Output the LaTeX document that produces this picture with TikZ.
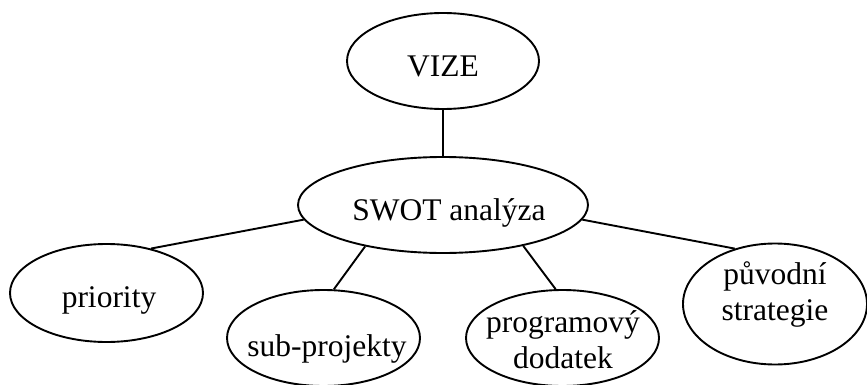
\documentclass[tikz,border=0pt]{standalone}
\usepackage{fontspec}
\setmainfont{Liberation Serif}
\usetikzlibrary{shapes.geometric}

\begin{document}
\begin{tikzpicture}[x=1pt, y=-1pt, line width=1.9pt,
    oval/.style={draw, ellipse, inner sep=0pt},
    txt/.style={font=\fontsize{31.5}{36}\selectfont, inner sep=0pt, anchor=base, align=center}]
        \useasboundingbox (0,0) rectangle (867,385);

        % Ellipses
        \node[oval, minimum width=192pt, minimum height=96pt] (vize) at (443,61) {};
        \node[oval, minimum width=290pt, minimum height=96pt] (swot) at (443,205) {};
        \node[oval, minimum width=193pt, minimum height=98pt] (prio) at (106.5,293) {};
        \node[oval, minimum width=193pt, minimum height=96pt] (sub) at (323.5,338) {};
        \node[oval, minimum width=193pt, minimum height=96pt] (prog) at (562.5,338) {};
        \node[oval, minimum width=184pt, minimum height=121pt] (orig) at (775,304) {};

        % Texts in the ellipses (base = last line)
        \node[txt] (vizetext) at (443,77) {VIZE};
        \node[txt] (swottext) at (449,220) {SWOT analýza};
        \node[txt] (priotext) at (109,307) {priority};
        \node[txt] (subtext) at (327,356) {sub-projekty};
        \node[txt] (progtext) at (563,368) {programový\\dodatek};
        \node[txt] (origtext) at (775,320) {původní\\strategie};

        % Lines from the centre
        \draw (vize.south) -- (swot.north);
        \foreach \a/\n/\b in {186/prio/45, 208/sub/78, 333/prog/98, 354/orig/126}
            \draw (swot.\a) -- (\n.\b);
    \end{tikzpicture}
\end{document}
